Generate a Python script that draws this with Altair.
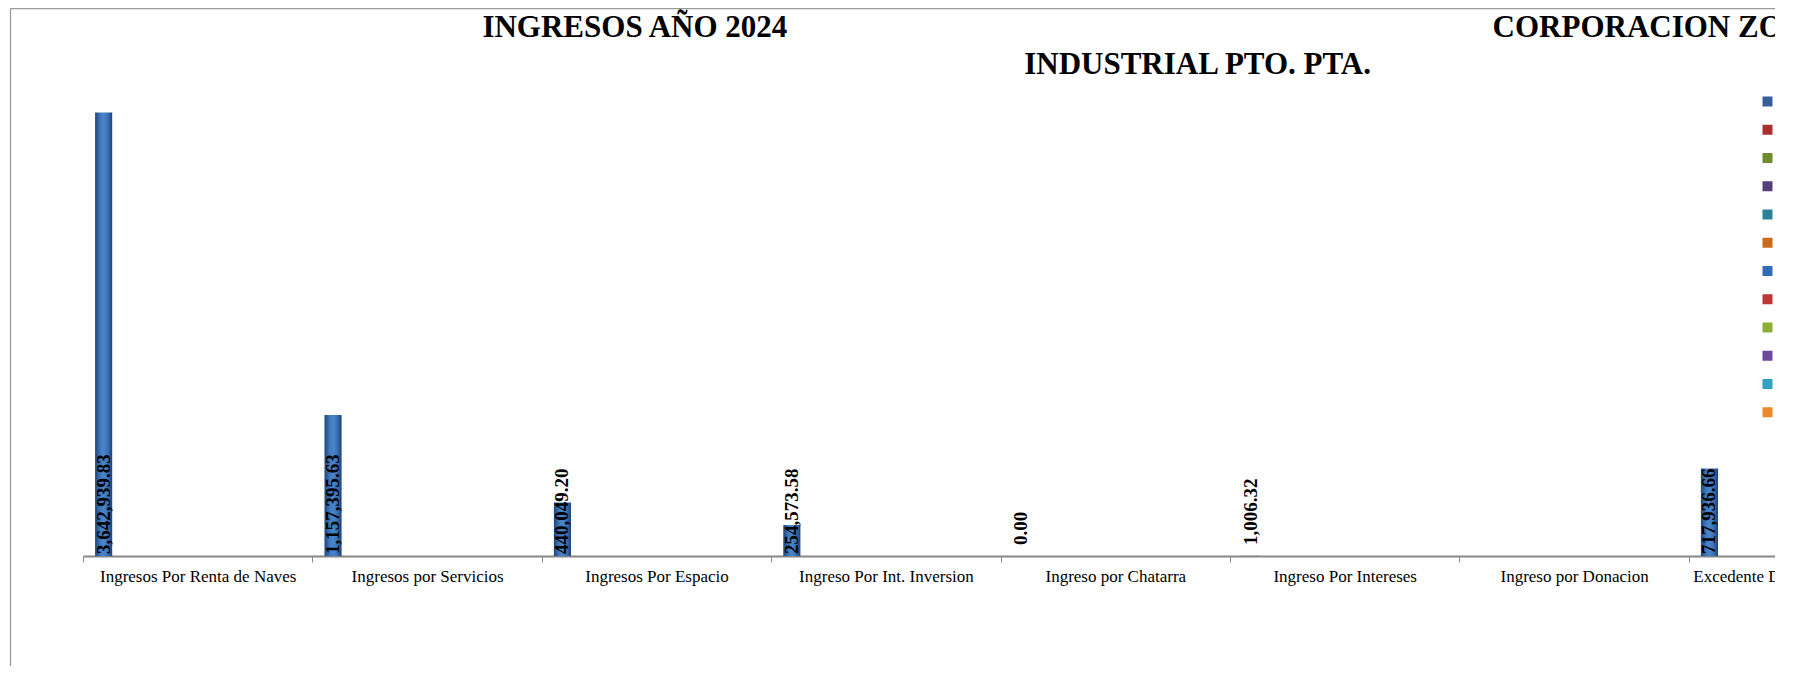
import altair as alt
import pandas as pd

# ---- data ----
categorias = [
    "Ingresos Por Renta de Naves",
    "Ingresos por Servicios",
    "Ingresos Por Espacio",
    "Ingreso Por Int. Inversion",
    "Ingreso por Chatarra",
    "Ingreso Por Intereses",
    "Ingreso por Donacion",
    "Excedente De Ejercicio Anterior",
]
valores = [3642939.83, 1157395.63, 440049.20, 254573.58, 0.00, 1006.32, None, 717936.66]

series = ["Enero", "Febrero", "Marzo", "Abril", "Mayo", "Junio",
          "Julio", "Agosto", "Septiembre", "Octubre", "Noviembre", "Diciembre"]
colores_series = ["#345F98", "#A8302E", "#6E8C2E", "#563F7C", "#2A8198", "#C96A1C",
                  "#326CB8", "#BF3634", "#8CAE35", "#6B4A9C", "#2FA2C0", "#EA8A2A"]

titulo_linea1 = "INGRESOS AÑO 2024"
titulo_linea1b = "CORPORACION ZONA"
titulo_linea2 = "INDUSTRIAL PTO. PTA."

df = pd.DataFrame({"categoria": categorias, "valor": valores, "serie": series[0]})
df_leyenda = pd.DataFrame({"serie": series})
df_marco = pd.DataFrame({"k": [0]})

FONT = "Liberation Serif"
STEP = 229.4
W, H = 1692, 487

x_enc = alt.X(
    "categoria:N",
    sort=categorias,
    scale=alt.Scale(domain=categorias, range=[0, STEP * len(categorias)],
                    paddingInner=0, paddingOuter=0),
    axis=alt.Axis(title=None, domainColor="#868686", domainWidth=1.8,
                  tickColor="#868686", tickSize=6, tickWidth=1, tickBand="extent",
                  labelAngle=0, labelFont=FONT, labelFontSize=17, labelColor="black",
                  labelPadding=6.5, labelLimit=0, labelOverlap=False, grid=False),
)
xoff_enc = alt.XOffset("serie:N",
                       scale=alt.Scale(domain=series, paddingInner=0, paddingOuter=0.707))
y_scale = alt.Scale(domain=[0, 4000000], nice=False, zero=True)

gradiente = alt.LinearGradient(
    gradient="linear", x1=0, x2=1, y1=0, y2=0,
    stops=[alt.GradientStop(color="#1d4479", offset=0),
           alt.GradientStop(color="#3f78bd", offset=0.3),
           alt.GradientStop(color="#4a86cc", offset=0.5),
           alt.GradientStop(color="#3a70b2", offset=0.75),
           alt.GradientStop(color="#1c4275", offset=1)],
)

base = alt.Chart(df)

barras = base.mark_bar(color=gradiente, strokeWidth=0).encode(
    x=x_enc, xOffset=xoff_enc,
    y=alt.Y("valor:Q", scale=y_scale, axis=None),
)

etiqueta_kw = dict(angle=270, align="left", baseline="middle", font=FONT,
                   fontSize=19, fontWeight="bold", color="black")

etiquetas_base = base.transform_filter("isValid(datum.valor) && datum.valor >= 100000") \
    .transform_calculate(cero="0") \
    .mark_text(dx=2, **etiqueta_kw).encode(
        x=x_enc, xOffset=xoff_enc,
        y=alt.Y("cero:Q", scale=y_scale, axis=None),
        text=alt.Text("valor:Q", format=",.2f"),
    )

etiquetas_fuera = base.transform_filter("isValid(datum.valor) && datum.valor < 100000") \
    .transform_calculate(cero="0") \
    .mark_text(dx=11, **etiqueta_kw).encode(
        x=x_enc, xOffset=xoff_enc,
        y=alt.Y("cero:Q", scale=y_scale, axis=None),
        text=alt.Text("valor:Q", format=",.2f"),
    )

leyenda = alt.Chart(df_leyenda).mark_square(opacity=0, size=100).encode(
    color=alt.Color("serie:N", scale=alt.Scale(domain=series, range=colores_series),
                    legend=alt.Legend(orient="none", legendX=1676, legendY=24,
                                      title=None, symbolType="square", symbolSize=100,
                                      symbolOpacity=1, symbolStrokeWidth=0,
                                      labelFont=FONT, labelFontSize=17,
                                      labelColor="black", rowPadding=10.25,
                                      padding=0, labelLimit=0)),
)

marco_izq = alt.Chart(df_marco).mark_rule(color="#9a9a9a", strokeWidth=1.3).encode(
    x=alt.value(-72.5), y=alt.value(-60.4), y2=alt.value(600))
marco_sup = alt.Chart(df_marco).mark_rule(color="#9a9a9a", strokeWidth=1.3).encode(
    x=alt.value(-72.5), x2=alt.value(1800), y=alt.value(-60.4))

NB = "\u00a0"
linea1 = titulo_linea1 + NB * 91 + titulo_linea1b + NB * 11 + "\u200b"

chart = alt.layer(marco_izq, marco_sup, barras, etiquetas_base, etiquetas_fuera, leyenda).properties(
    width=W, height=H,
    padding={"left": 75, "top": 61, "right": 0, "bottom": 110},
    autosize=alt.AutoSizeParams(type="none"),
    background="white",
    title=alt.TitleParams(text=[linea1, titulo_linea2], anchor="middle", frame="group",
                          font=FONT, fontSize=31, fontWeight="bold", color="black",
                          lineHeight=37, dx=268.6, dy=73, offset=0),
).configure_view(stroke=None, strokeWidth=0)

chart.save("out.html", embed_options={"renderer": "svg", "actions": False})
